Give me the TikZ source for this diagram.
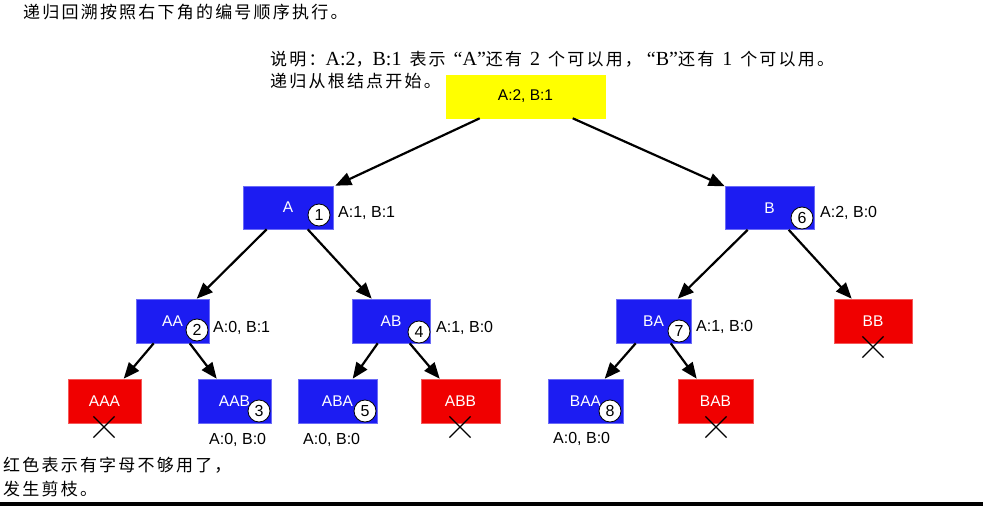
\documentclass[tikz,border=0pt]{standalone}
\usepackage{fontspec}
\setmainfont{Liberation Serif}
\setsansfont{Liberation Sans}
\newfontfamily\cjk[LetterSpace=13]{Noto Sans CJK SC}
\usetikzlibrary{shapes.misc,arrows.meta}
\definecolor{nblue}{RGB}{28,28,242}
\definecolor{nred}{RGB}{240,0,0}
\definecolor{nyellow}{RGB}{255,255,0}
\newcommand\zhtxt[1]{{\cjk\fontsize{17}{17}\selectfont #1}}
\newcommand\gapsp{\hspace{8pt}}
\begin{document}
\begin{tikzpicture}[x=1pt,y=-1pt,
  box/.style={minimum height=43pt, inner sep=0pt, line width=0.6pt,
    font=\sffamily\fontsize{15.5}{15.5}\selectfont, text=white},
  bluebox/.style={box, fill=nblue, draw=nblue!65!white},
  redbox/.style={box, fill=nred, draw=nred!65!white},
  rootbox/.style={box, fill=nyellow, draw=nyellow, text=black},
  num/.style={circle, draw=black, fill=white, line width=0.8pt, minimum size=22pt,
    inner sep=0pt, font=\sffamily\fontsize{16}{16}\selectfont},
  lab/.style={anchor=west, inner sep=0pt, font=\sffamily\fontsize{16}{16}\selectfont},
  xmark/.style={cross out, draw=black, line width=1.2pt, minimum size=20pt, inner sep=0pt},
  arr/.style={line width=2.2pt, -{Triangle[length=16pt,width=13pt]}},
  zh/.style={anchor=west, inner sep=0pt, font=\fontsize{20}{20}\selectfont}
]
\useasboundingbox (0,0) rectangle (983,506);

% texts
\node[zh] (t1) at (23,12.5) {\zhtxt{递归回溯按照右下角的编号顺序执行。}};
\node[zh] (t2) at (270,59.5) {\zhtxt{说明：}A:2\zhtxt{，}B:1\gapsp\zhtxt{表示}\gapsp“A”\zhtxt{还有}\gapsp 2\gapsp\zhtxt{个可以用，}\hspace{5pt}“B”\zhtxt{还有}\gapsp 1\gapsp\zhtxt{个可以用。}};
\node[zh] (t3) at (270,81.5) {\zhtxt{递归从根结点开始。}};
\node[zh] (t4) at (3,465) {\zhtxt{红色表示有字母不够用了，}};
\node[zh] (t5) at (3,489.5) {\zhtxt{发生剪枝。}};

% boxes
\node[rootbox, minimum width=159pt] (root) at (525.5,96.5) {A:2, B:1};
\node[bluebox, minimum width=90pt] (A) at (288,207.5) {A};
\node[bluebox, minimum width=89pt] (B) at (769.5,208) {B};
\node[bluebox, minimum width=73pt, minimum height=44pt] (AA) at (172.5,321) {AA};
\node[bluebox, minimum width=78pt, minimum height=44pt] (AB) at (391,321) {AB};
\node[bluebox, minimum width=75pt, minimum height=44pt] (BA) at (653.5,321) {BA};
\node[redbox, minimum width=78pt, minimum height=44pt] (BB) at (873,321) {BB};
\node[redbox, minimum width=73pt, minimum height=44pt] (AAA) at (104.5,401) {AAA};
\node[bluebox, minimum width=73pt, minimum height=44pt] (AAB) at (234.5,401) {AAB};
\node[bluebox, minimum width=79pt, minimum height=44pt] (ABA) at (337.5,401) {ABA};
\node[redbox, minimum width=79pt, minimum height=44pt] (ABB) at (460.5,401) {ABB};
\node[bluebox, minimum width=75pt, minimum height=44pt] (BAA) at (585.5,401) {BAA};
\node[redbox, minimum width=75pt, minimum height=44pt] (BAB) at (715.5,401) {BAB};

% edges
\draw[arr] ([xshift=34pt]root.south west) -- ([xshift=2pt]A.north east);
\draw[arr] ([xshift=127pt]root.south west) -- (B.north west);
\draw[arr] ([xshift=24pt]A.south west) -- ([xshift=61pt]AA.north west);
\draw[arr] ([xshift=65pt]A.south west) -- ([xshift=20pt]AB.north west);
\draw[arr] ([xshift=23pt]B.south west) -- ([xshift=62pt]BA.north west);
\draw[arr] ([xshift=64pt]B.south west) -- ([xshift=18pt]BB.north west);
\draw[arr] ([xshift=18pt]AA.south west) -- ([xshift=56pt]AAA.north west);
\draw[arr] ([xshift=54pt]AA.south west) -- ([xshift=19pt]AAB.north west);
\draw[arr] ([xshift=26pt]AB.south west) -- ([xshift=55pt]ABA.north west);
\draw[arr] ([xshift=58pt]AB.south west) -- ([xshift=19pt]ABB.north west);
\draw[arr] ([xshift=20pt]BA.south west) -- ([xshift=57pt]BAA.north west);
\draw[arr] ([xshift=55pt]BA.south west) -- ([xshift=19pt]BAB.north west);

% numbered circles
\node[num] (c1) at (319,215) {1};
\node[num] (c2) at (197,330) {2};
\node[num] (c3) at (259,411) {3};
\node[num] (c4) at (419,332) {4};
\node[num] (c5) at (365,411) {5};
\node[num] (c6) at (802,218) {6};
\node[num] (c7) at (679,331) {7};
\node[num] (c8) at (610,411) {8};

% state labels
\node[lab] (l1) at (338,213) {A:1, B:1};
\node[lab] (l6) at (820,213) {A:2, B:0};
\node[lab] (l2) at (213,328) {A:0, B:1};
\node[lab] (l4) at (436,328) {A:1, B:0};
\node[lab] (l7) at (696,327) {A:1, B:0};
\node[lab] (l3) at (209,440) {A:0, B:0};
\node[lab] (l5) at (303,440) {A:0, B:0};
\node[lab] (l8) at (553,439) {A:0, B:0};

% pruning marks
\node[xmark] (x1) at (104,427) {};
\node[xmark] (x2) at (460,427) {};
\node[xmark] (x3) at (716,427) {};
\node[xmark] (x4) at (873,347) {};

% bottom bar
\fill[black] (0,502) rectangle (983,506);
\end{tikzpicture}
\end{document}
